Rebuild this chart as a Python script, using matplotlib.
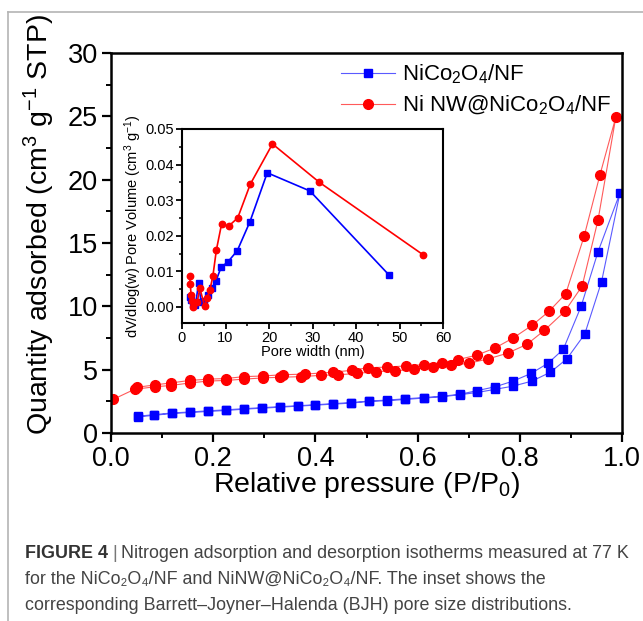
import matplotlib
matplotlib.use("Agg")
import matplotlib.pyplot as plt
from matplotlib.lines import Line2D

plt.rcParams['font.family'] = ['Liberation Sans', 'DejaVu Sans']
plt.rcParams['mathtext.fontset'] = 'custom'
plt.rcParams['mathtext.rm'] = 'Liberation Sans'
plt.rcParams['mathtext.it'] = 'Liberation Sans:italic'
plt.rcParams['mathtext.bf'] = 'Liberation Sans:bold'

# ---- isotherm data (relative pressure, quantity adsorbed) ----
# NiCo2O4/NF : adsorption branch then desorption branch
blue_ads_p = [0.052, 0.085, 0.119, 0.155, 0.19, 0.225, 0.26, 0.296, 0.331, 0.366, 0.40, 0.435,
              0.47, 0.505, 0.541, 0.576, 0.613, 0.647, 0.682, 0.717, 0.752, 0.787, 0.824, 0.86,
              0.892, 0.927, 0.96, 0.996]
blue_ads_q = [1.27, 1.4, 1.54, 1.62, 1.7, 1.78, 1.88, 1.96, 2.04, 2.12, 2.2, 2.28,
              2.36, 2.5, 2.55, 2.65, 2.76, 2.86, 3.02, 3.2, 3.45, 3.7, 4.1, 4.8,
              5.85, 7.8, 11.95, 18.95]
blue_des_p = [0.953, 0.92, 0.885, 0.855, 0.822, 0.787, 0.752, 0.717, 0.682, 0.647, 0.613, 0.576,
              0.541, 0.505, 0.47, 0.435, 0.40, 0.366, 0.331, 0.296, 0.26, 0.225, 0.19, 0.155,
              0.119, 0.085, 0.052]
blue_des_q = [14.3, 10.0, 6.6, 5.5, 4.7, 4.1, 3.65, 3.35, 3.05, 2.9, 2.8, 2.7,
              2.6, 2.52, 2.4, 2.32, 2.23, 2.15, 2.08, 2.0, 1.92, 1.83, 1.75, 1.66,
              1.58, 1.45, 1.32]

# Ni NW@NiCo2O4/NF
red_ads_p = [0.004, 0.046, 0.086, 0.117, 0.154, 0.19, 0.225, 0.26, 0.297, 0.331, 0.372, 0.41,
             0.445, 0.481, 0.519, 0.556, 0.592, 0.63, 0.665, 0.70, 0.738, 0.776, 0.814, 0.848,
             0.888, 0.922, 0.953, 0.988]
red_ads_q = [2.65, 3.45, 3.65, 3.75, 3.95, 4.1, 4.15, 4.25, 4.35, 4.4, 4.45, 4.55,
             4.6, 4.7, 4.85, 4.9, 5.05, 5.2, 5.35, 5.5, 5.85, 6.3, 7.0, 8.1,
             9.6, 11.6, 16.8, 24.95]
red_des_p = [0.957, 0.926, 0.89, 0.857, 0.824, 0.787, 0.751, 0.716, 0.68, 0.647, 0.612, 0.578,
             0.54, 0.502, 0.471, 0.435, 0.379, 0.336, 0.297, 0.26, 0.225, 0.19, 0.154, 0.117,
             0.086, 0.05]
red_des_q = [20.4, 15.55, 11.0, 9.6, 8.5, 7.5, 6.7, 6.15, 5.8, 5.55, 5.4, 5.3,
             5.2, 5.15, 4.95, 4.8, 4.65, 4.6, 4.5, 4.45, 4.3, 4.25, 4.15, 3.95,
             3.8, 3.6]

# ---- BJH pore size distribution (inset) ----
blue_w = [1.8, 2.1, 2.5, 3.1, 3.8, 4.4, 5.1, 5.9, 6.8, 7.8, 9.0, 10.5, 12.7, 15.6, 19.6, 29.4, 47.5]
blue_v = [0.0028, 0.0021, 0.0009, 0.0005, 0.0067, 0.0013, 0.0017, 0.0033, 0.0052, 0.0073,
          0.0112, 0.0126, 0.0158, 0.0239, 0.0377, 0.0326, 0.0091]
red_w = [1.77, 1.9, 2.1, 2.4, 2.5, 3.5, 4.1, 5.2, 5.8, 6.4, 7.1, 7.9, 9.1, 10.7, 12.8, 15.7,
         20.8, 31.6, 55.5]
red_v = [0.0086, 0.0064, 0.0033, 0.0017, 0.0000, 0.0014, 0.0053, 0.0002, 0.0026, 0.0047,
         0.0087, 0.0160, 0.0233, 0.0227, 0.0250, 0.0345, 0.0458, 0.0350, 0.0146]

labels = ["NiCo$_2$O$_4$/NF", "Ni NW@NiCo$_2$O$_4$/NF"]

W, H = 643, 621
fig = plt.figure(figsize=(W / 100, H / 100), dpi=100)

# figure frame (grey box of the journal page)
fig.add_artist(Line2D([8 / W, 1.0], [1 - 12 / H, 1 - 12 / H], color='#b4b4b4', lw=1.2))
fig.add_artist(Line2D([8 / W, 8 / W], [0.0, 1 - 12 / H], color='#b4b4b4', lw=1.2))

ax = fig.add_axes([111 / W, 1 - 433 / H, 511 / W, 380 / H])
ax.plot(blue_ads_p + blue_des_p, blue_ads_q + blue_des_q, color='#5a5aff', lw=0.8,
        marker='s', ms=6.2, mfc='#0000ff', mec='#0000ff', label=labels[0])
ax.plot(red_ads_p + red_des_p, red_ads_q + red_des_q, color='#ff5a5a', lw=0.8,
        marker='o', ms=7, mfc='#ff0000', mec='#ff0000', label=labels[1])
ax.set_xlim(0, 1.0)
ax.set_ylim(0, 30)
ax.set_xticks([0, 0.2, 0.4, 0.6, 0.8, 1.0])
ax.set_xticks([0.1, 0.3, 0.5, 0.7, 0.9], minor=True)
ax.set_yticks([0, 5, 10, 15, 20, 25, 30])
ax.set_yticks([2.5, 7.5, 12.5, 17.5, 22.5, 27.5], minor=True)
ax.set_xticklabels(["0.0", "0.2", "0.4", "0.6", "0.8", "1.0"])
ax.tick_params(which='major', direction='out', length=6.5, width=1.6, labelsize=19.5, pad=3)
ax.tick_params(which='minor', direction='out', length=3.5, width=1.4)
for s in ax.spines.values():
    s.set_linewidth(1.8)
ax.set_xlabel("Relative pressure (P/P$_0$)", fontsize=20.5)
ax.xaxis.set_label_coords(0.5, -0.097)
ax.set_ylabel("Quantity adsorbed (cm$^3$ g$^{-1}$ STP)", fontsize=20.5)
ax.yaxis.set_label_coords(-0.105, 0.55)
ax.legend(loc='upper left', bbox_to_anchor=(0.42, 1.015), frameon=False, fontsize=16,
          handlelength=2.4, borderpad=0.2, labelspacing=0.35, handletextpad=0.35)

# inset
ins = fig.add_axes([182 / W, 1 - 323 / H, 261 / W, 194 / H])
ins.plot(blue_w, blue_v, color='#0000ff', lw=1.2, marker='s', ms=4.2)
ins.plot(red_w, red_v, color='#ff0000', lw=1.2, marker='o', ms=4.6)
ins.set_xlim(0, 60)
ins.set_ylim(-0.0045, 0.05)
ins.set_xticks([0, 10, 20, 30, 40, 50, 60])
ins.set_xticks([5, 15, 25, 35, 45, 55], minor=True)
ins.set_yticks([0.0, 0.01, 0.02, 0.03, 0.04, 0.05])
ins.set_yticks([0.005, 0.015, 0.025, 0.035, 0.045], minor=True)
ins.set_yticklabels(["0.00", "0.01", "0.02", "0.03", "0.04", "0.05"])
ins.tick_params(which='major', direction='out', length=4, width=1.3, labelsize=10.5, pad=1.5)
ins.tick_params(which='minor', direction='out', length=2.5, width=1.1)
for s in ins.spines.values():
    s.set_linewidth(1.5)
ins.set_xlabel("Pore width (nm)", fontsize=10.5, labelpad=0)
ins.set_ylabel("dV/dlog(w) Pore Volume (cm$^3$ g$^{-1}$)", fontsize=10.5, labelpad=1)

# caption
cap_font = ['Liberation Sans', 'DejaVu Sans']
cap_size = 12.9
r = fig.canvas.get_renderer()
x0 = 25 / W
y1 = 1 - 553 / H
t = fig.text(x0, y1, "FIGURE 4", fontsize=cap_size, weight='bold', color='#333333',
             family=cap_font, va='center')
bb = t.get_window_extent(r)
t2 = fig.text(bb.x1 / W + 4 / W, y1, "|", fontsize=cap_size, color='#777777',
              family=cap_font, va='center')
bb2 = t2.get_window_extent(r)
fig.text(bb2.x1 / W + 4 / W, y1,
         "Nitrogen adsorption and desorption isotherms measured at 77 K",
         fontsize=cap_size, color='#444444', family=cap_font, va='center')
fig.text(x0, 1 - 579 / H,
         "for the NiCo\u2082O\u2084/NF and NiNW@NiCo\u2082O\u2084/NF. The inset shows the",
         fontsize=cap_size, color='#444444', family=cap_font, va='center')
fig.text(x0, 1 - 605 / H,
         "corresponding Barrett\u2013Joyner\u2013Halenda (BJH) pore size distributions.",
         fontsize=cap_size, color='#444444', family=cap_font, va='center')

fig.savefig("out.png", dpi=100)
